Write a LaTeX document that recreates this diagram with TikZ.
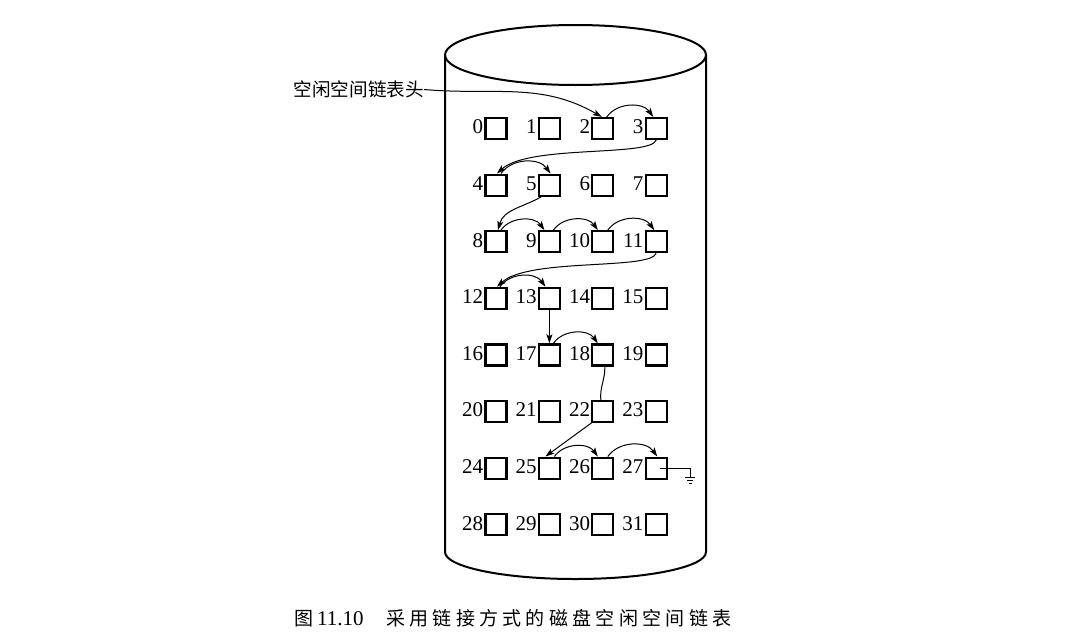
\documentclass[tikz,border=0pt]{standalone}
\usepackage{fontspec}
\setmainfont{Liberation Serif}
\newfontfamily\cjk{Noto Sans CJK SC}
\newfontfamily\cjkcap[LetterSpace=22.6]{Noto Sans CJK SC}
\usetikzlibrary{arrows.meta,calc}
\pgfdeclarelayer{back}
\pgfdeclarelayer{bg}
\pgfsetlayers{back,bg,main}
\begin{document}
\begin{tikzpicture}[x=1pt,y=1pt,
  blk/.style={draw,line width=2.2pt,minimum size=21pt,inner sep=0pt,fill=white},
  cyl/.style={line width=2pt},
  lnk/.style={line width=1pt,-{Stealth[length=9pt,width=6pt,inset=2pt]}},
  wire/.style={line width=1pt},
  numfont/.style={font=\fontsize{21}{21}\selectfont},
  cjktext/.style={font=\cjk\fontsize{18.6}{18.6}\selectfont,inner sep=0pt}]
\useasboundingbox (0,0) rectangle (1089,-637);
\begin{pgfonlayer}{back}
\fill[white] (0,0) rectangle (1089,-637);
\end{pgfonlayer}
% cylinder
\draw[cyl] (575.5,-55) ellipse[x radius=130.5,y radius=30];
\draw[cyl] (445,-55) -- (445,-552) arc[start angle=180,end angle=360,x radius=130.5,y radius=27] -- (706,-55);
% blocks
\foreach \i in {0,...,31}{
  \pgfmathtruncatemacro\r{div(\i,4)}
  \pgfmathtruncatemacro\c{mod(\i,4)}
  \node[blk,label={[numfont,inner sep=1pt,yshift=1.5pt]left:\i}] (b\i) at (496+53.4*\c,-128.5-56.6*\r) {};
}
% head label
\node[cjktext,anchor=east] (head) at (424,-89.5) {空闲空间链表头};
% links
\begin{pgfonlayer}{bg}
\draw[lnk] (head.east) to[out=-5,in=150] ([xshift=-1]b2.north);
\draw[lnk] ([xshift=4]b2.north) to[out=55,in=125] ([xshift=-3]b3.north);
\draw[lnk] (b3.south) .. controls ($(b3.south)+(-6,-17)$) and ($(b4.north)+(33,29)$) .. ([xshift=1]b4.north);
\draw[lnk] ([xshift=5]b4.north) to[out=55,in=125] ([xshift=1]b5.north);
\draw[lnk] ([xshift=-8]b5.south) to[out=-150,in=75] ([xshift=2]b8.north);
\draw[lnk] ([xshift=5]b8.north) to[out=55,in=125] ([xshift=-5]b9.north);
\draw[lnk] ([xshift=4]b9.north) to[out=55,in=125] ([xshift=-5]b10.north);
\draw[lnk] ([xshift=5]b10.north) to[out=55,in=125] ([xshift=-2]b11.north);
\draw[lnk] (b11.south) .. controls ($(b11.south)+(-6,-17)$) and ($(b12.north)+(33,29)$) .. ([xshift=1]b12.north);
\draw[lnk] ([xshift=4]b12.north) to[out=55,in=125] ([xshift=-4]b13.north);
\draw[lnk] (b13.south) -- (b17.north);
\draw[lnk] ([xshift=4]b17.north) to[out=55,in=125] ([xshift=-5]b18.north);
\draw[lnk] ([xshift=2]b18.south) to[out=-88,in=95] ([xshift=-2]b22.north) -- (b22.south west) -- ([xshift=-4]b25.north);
\draw[lnk] ([xshift=5]b25.north) to[out=55,in=125] ([xshift=-5]b26.north);
\draw[lnk] ([xshift=5]b26.north) to[out=55,in=125] ([xshift=1]b27.north);
\end{pgfonlayer}
% ground
\coordinate (gnd) at (690,-477);
\draw[wire] ([xshift=4]b27.center) -| (gnd);
\draw[wire] ($(gnd)+(-5,0)$) -- ($(gnd)+(5,0)$)
            ($(gnd)+(-3,-3)$) -- ($(gnd)+(3,-3)$)
            ($(gnd)+(-1.5,-6)$) -- ($(gnd)+(1.5,-6)$);
% caption
\node[font=\cjk\fontsize{19}{19}\selectfont,inner sep=0pt,anchor=base west] (capfig) at (294,-625.5) {图};
\node[font=\fontsize{21}{21}\selectfont,inner sep=0pt,anchor=base west] (capnum) at (317,-625.5) {11.10};
\node[font=\cjkcap\fontsize{19}{19}\selectfont,inner sep=0pt,anchor=base west] (captext) at (386,-625.5) {采用链接方式的磁盘空闲空间链表};
\end{tikzpicture}
\end{document}
